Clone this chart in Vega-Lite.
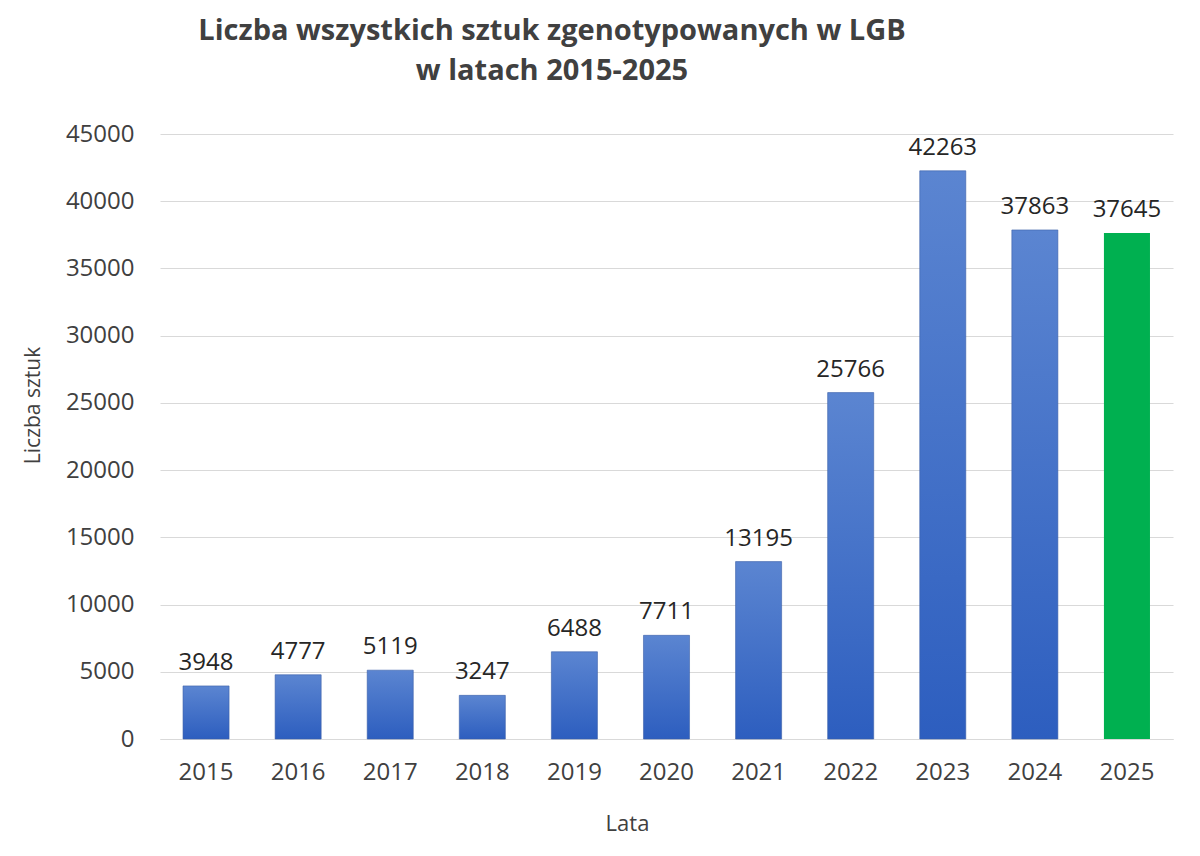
{
  "$schema": "https://vega.github.io/schema/vega-lite/v6.json",
  "width": 1013,
  "height": 605,
  "autosize": {"type": "none"},
  "padding": {"left": 160, "top": 134, "right": 27, "bottom": 117},
  "background": "white",
  "title": {
    "text": ["Liczba wszystkich sztuk zgenotypowanych w LGB", "w latach 2015-2025"],
    "anchor": "start",
    "align": "center",
    "dx": 530,
    "offset": 36,
    "font": "Open Sans",
    "fontWeight": "bold",
    "fontSize": 29,
    "lineHeight": 40,
    "color": "#404040"
  },
  "data": {
    "values": [
      {"rok": "2015", "liczba": 3948, "grupa": "a"},
      {"rok": "2016", "liczba": 4777, "grupa": "a"},
      {"rok": "2017", "liczba": 5119, "grupa": "a"},
      {"rok": "2018", "liczba": 3247, "grupa": "a"},
      {"rok": "2019", "liczba": 6488, "grupa": "a"},
      {"rok": "2020", "liczba": 7711, "grupa": "a"},
      {"rok": "2021", "liczba": 13195, "grupa": "a"},
      {"rok": "2022", "liczba": 25766, "grupa": "a"},
      {"rok": "2023", "liczba": 42263, "grupa": "a"},
      {"rok": "2024", "liczba": 37863, "grupa": "a"},
      {"rok": "2025", "liczba": 37645, "grupa": "b"}
    ]
  },
  "encoding": {
    "x": {
      "field": "rok",
      "type": "ordinal",
      "scale": {"paddingInner": 0.5, "paddingOuter": 0.25},
      "axis": {
        "title": "Lata",
        "labelAngle": 0,
        "labelFont": "Open Sans",
        "labelFontSize": 24,
        "labelColor": "#404040",
        "labelPadding": 21,
        "ticks": false,
        "domainColor": "#d9d9d9",
        "domainWidth": 1,
        "titleFont": "Open Sans",
        "titleFontSize": 22,
        "titleFontWeight": "normal",
        "titleColor": "#404040",
        "titleX": 467,
        "titleY": 84,
        "titleBaseline": "middle",
        "titleAlign": "center"
      }
    },
    "y": {
      "field": "liczba",
      "type": "quantitative",
      "scale": {"domain": [0, 45000], "nice": false},
      "axis": {
        "title": "Liczba sztuk",
        "values": [0, 5000, 10000, 15000, 20000, 25000, 30000, 35000, 40000, 45000],
        "format": "d",
        "labelFont": "Open Sans",
        "labelFontSize": 24,
        "labelColor": "#404040",
        "labelPadding": 26,
        "ticks": false,
        "domain": false,
        "grid": true,
        "gridColor": "#d9d9d9",
        "gridWidth": 1,
        "titleFont": "Open Sans",
        "titleFontSize": 21,
        "titleFontWeight": "normal",
        "titleColor": "#404040",
        "titleAngle": -90,
        "titleX": -127,
        "titleY": 271,
        "titleBaseline": "middle",
        "titleAlign": "center"
      }
    }
  },
  "layer": [
    {
      "transform": [{"filter": "datum.grupa === 'a'"}],
      "mark": {
        "type": "bar",
        "stroke": "#3a5fa8",
        "strokeWidth": 1,
        "strokeOpacity": 0.6,
        "color": {
          "gradient": "linear",
          "x1": 0, "y1": 0, "x2": 0, "y2": 1,
          "stops": [
            {"offset": 0, "color": "#5b85d1"},
            {"offset": 1, "color": "#2d5ebf"}
          ]
        }
      }
    },
    {
      "transform": [{"filter": "datum.grupa === 'b'"}],
      "mark": {"type": "bar", "color": "#00b050"}
    },
    {
      "mark": {
        "type": "text",
        "baseline": "alphabetic",
        "dy": -16,
        "font": "Open Sans",
        "fontSize": 24,
        "color": "#262626"
      },
      "encoding": {"text": {"field": "liczba", "type": "quantitative", "format": "d"}}
    }
  ],
  "config": {"view": {"stroke": null}}
}
